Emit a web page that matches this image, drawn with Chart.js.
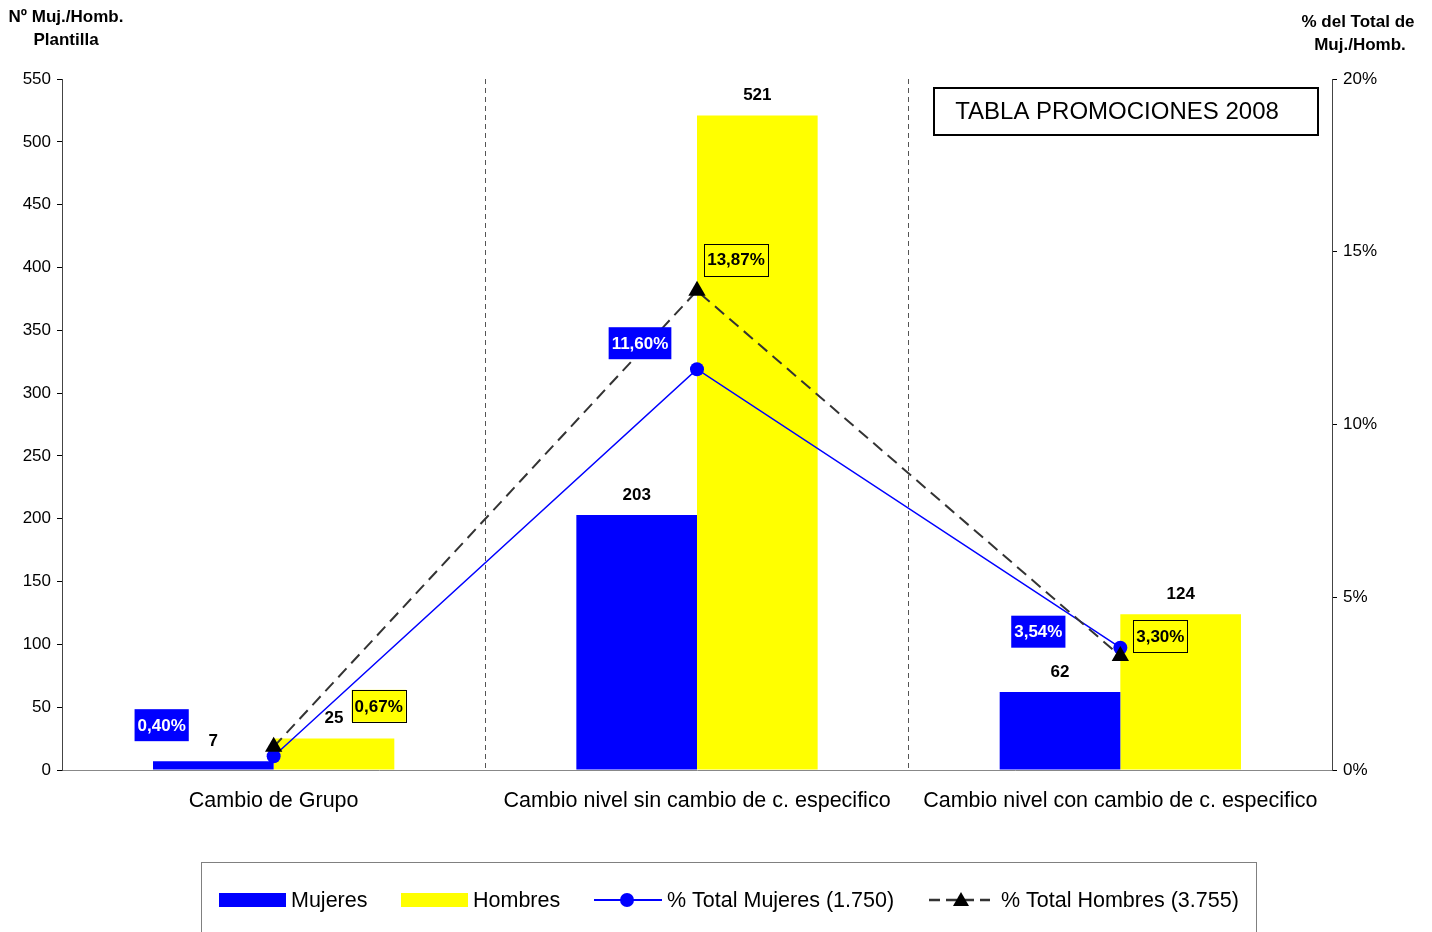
<!DOCTYPE html>
<html>
<head>
<meta charset="utf-8">
<title>Tabla promociones 2008</title>
<script src="https://cdn.jsdelivr.net/npm/chart.js@4.4.0/dist/chart.umd.min.js"></script>
<style>
  body { margin: 0; background: #fff; }
  canvas { display: block; }
</style>
</head>
<body>
<canvas id="promo_chart" width="1432" height="932"></canvas>
<script>
// CHART DATA
const categories = ['Cambio de Grupo', 'Cambio nivel sin cambio de c. especifico', 'Cambio nivel con cambio de c. especifico'];
const mujeres = [7, 203, 62];
const hombres = [25, 521, 124];
const pct_mujeres = [0.40, 11.60, 3.54];
const pct_hombres = [0.67, 13.87, 3.30];
const total_mujeres = '1.750';
const total_hombres = '3.755';

const FONT = '"Liberation Sans", Arial, sans-serif';
Chart.defaults.font.family = FONT;
Chart.defaults.color = '#000';

const BLUE = '#0000FF';
const YELLOW = '#FFFF00';

function pctText(v) {
	return v.toFixed(2).replace('.', ',') + '%';
}

// LABELS, TITLES AND LEGEND
const decorPlugin = {
	id: 'decor',
	afterDatasetsDraw(chart, args, opts) {
		const c = chart.ctx;
		c.save();
		c.textAlign = 'center';
		c.textBaseline = 'middle';

		// bar values
		c.font = 'bold 17px ' + FONT;
		c.fillStyle = '#000';
		[0, 1].forEach(di => {
			const meta = chart.getDatasetMeta(di);
			meta.data.forEach((bar, i) => {
				c.fillText(String(chart.data.datasets[di].data[i]), bar.x, bar.y - 20);
			});
		});

		// percentage labels
		[[2, opts.offsMuj, BLUE, '#fff', false], [3, opts.offsHom, YELLOW, '#000', true]].forEach(([di, offs, bg, fg, border]) => {
			const meta = chart.getDatasetMeta(di);
			meta.data.forEach((pt, i) => {
				const txt = pctText(chart.data.datasets[di].data[i]);
				c.font = 'bold 17px ' + FONT;
				const w = c.measureText(txt).width + 6;
				const h = 32;
				const cx = pt.x + offs[i][0];
				const cy = pt.y + offs[i][1];
				c.fillStyle = bg;
				c.fillRect(cx - w / 2, cy - h / 2, w, h);
				if (border) {
					c.strokeStyle = '#000';
					c.lineWidth = 1;
					c.strokeRect(Math.round(cx - w / 2) + 0.5, Math.round(cy - h / 2) + 0.5, Math.round(w), h);
				}
				c.fillStyle = fg;
				c.fillText(txt, cx, cy + 1);
			});
		});
		c.restore();
	},
	afterDraw(chart) {
		const c = chart.ctx;
		c.save();
		c.textAlign = 'center';
		c.textBaseline = 'middle';
		c.fillStyle = '#000';

		// axis titles
		c.font = 'bold 17px ' + FONT;
		c.fillText('Nº Muj./Homb.', 66, 17);
		c.fillText('Plantilla', 66, 40);
		c.fillText('% del Total de', 1358, 22);
		c.fillText('Muj./Homb.', 1360, 45);

		// title box
		c.lineWidth = 2;
		c.strokeStyle = '#000';
		c.strokeRect(934, 88, 384, 47);
		c.font = '24px ' + FONT;
		c.fillText('TABLA PROMOCIONES 2008', 1117, 112);

		// legend
		c.lineWidth = 1;
		c.strokeStyle = '#808080';
		c.strokeRect(201.5, 862.5, 1055, 90);
		const ly = 900;
		c.textAlign = 'left';
		c.font = '21.5px ' + FONT;
		c.fillStyle = BLUE;
		c.fillRect(219, ly - 7, 67, 14);
		c.fillStyle = '#000';
		c.fillText('Mujeres', 291, ly + 1);
		c.fillStyle = YELLOW;
		c.fillRect(401, ly - 7, 67, 14);
		c.fillStyle = '#000';
		c.fillText('Hombres', 473, ly + 1);

		c.strokeStyle = BLUE;
		c.lineWidth = 2;
		c.beginPath(); c.moveTo(594, ly); c.lineTo(662, ly); c.stroke();
		c.fillStyle = BLUE;
		c.beginPath(); c.arc(627, ly, 7, 0, Math.PI * 2); c.fill();
		c.fillStyle = '#000';
		c.fillText('% Total Mujeres (' + total_mujeres + ')', 667, ly + 1);

		c.strokeStyle = '#333';
		c.lineWidth = 2.5;
		c.setLineDash([11, 6]);
		c.beginPath(); c.moveTo(929, ly); c.lineTo(990, ly); c.stroke();
		c.setLineDash([]);
		c.fillStyle = '#000';
		c.beginPath(); c.moveTo(961, ly - 8); c.lineTo(969, ly + 6); c.lineTo(953, ly + 6); c.closePath(); c.fill();
		c.fillText('% Total Hombres (' + total_hombres + ')', 1001, ly + 1);
		c.restore();
	}
};

const ctx = document.getElementById('promo_chart').getContext('2d');

let my_chart = new Chart(ctx, {
	type: 'bar',
	data: {
		labels: categories,
		datasets: [{
			label: 'Mujeres',
			data: mujeres,
			backgroundColor: BLUE,
			yAxisID: 'y',
			order: 2,
			categoryPercentage: 0.57,
			barPercentage: 1.0
		}, {
			label: 'Hombres',
			data: hombres,
			backgroundColor: YELLOW,
			yAxisID: 'y',
			order: 2,
			categoryPercentage: 0.57,
			barPercentage: 1.0
		}, {
			type: 'line',
			label: '% Total Mujeres (' + total_mujeres + ')',
			data: pct_mujeres,
			yAxisID: 'y1',
			borderColor: BLUE,
			backgroundColor: BLUE,
			borderWidth: 1.5,
			pointStyle: 'circle',
			pointRadius: 7,
			pointBorderWidth: 0,
			tension: 0,
			order: 1
		}, {
			type: 'line',
			label: '% Total Hombres (' + total_hombres + ')',
			data: pct_hombres,
			yAxisID: 'y1',
			borderColor: '#333',
			backgroundColor: '#000',
			borderWidth: 2,
			borderDash: [12, 7],
			pointStyle: 'triangle',
			pointRadius: 10,
			pointBorderWidth: 0,
			tension: 0,
			order: 0
		}]
	},
	options: {
		responsive: false,
		animation: false,
		layout: { padding: { top: 79, left: 0, right: 0, bottom: 0 } },
		plugins: {
			legend: { display: false },
			tooltip: { enabled: false },
			decor: {
				offsMuj: [[-112, -31], [-57, -26], [-82, -16]],
				offsHom: [[105, -41], [39, -31], [40, -20]]
			}
		},
		scales: {
			x: {
				offset: true,
				grid: {
					offset: true,
					drawTicks: false,
					color: c => (c.index > 0 && c.index < categories.length) ? '#555' : 'rgba(0,0,0,0)'
				},
				border: { color: '#888', dash: [5, 4] },
				ticks: { padding: 18, font: { size: 21.5 }, color: '#000', maxRotation: 0, autoSkip: false },
				afterFit: s => { s.height = 162; }
			},
			y: {
				position: 'left',
				min: 0,
				max: 550,
				ticks: { stepSize: 50, padding: 6, font: { size: 17 }, color: '#000' },
				grid: { drawOnChartArea: false, tickLength: 5, tickColor: '#000' },
				border: { color: '#444' },
				afterFit: s => { s.width = 62; }
			},
			y1: {
				position: 'right',
				min: 0,
				max: 20,
				ticks: { stepSize: 5, padding: 6, font: { size: 17 }, color: '#000', callback: v => v + '%' },
				grid: { drawOnChartArea: false, tickLength: 5, tickColor: '#000' },
				border: { color: '#444' },
				afterFit: s => { s.width = 100; }
			}
		}
	},
	plugins: [decorPlugin]
});
</script>
</body>
</html>
